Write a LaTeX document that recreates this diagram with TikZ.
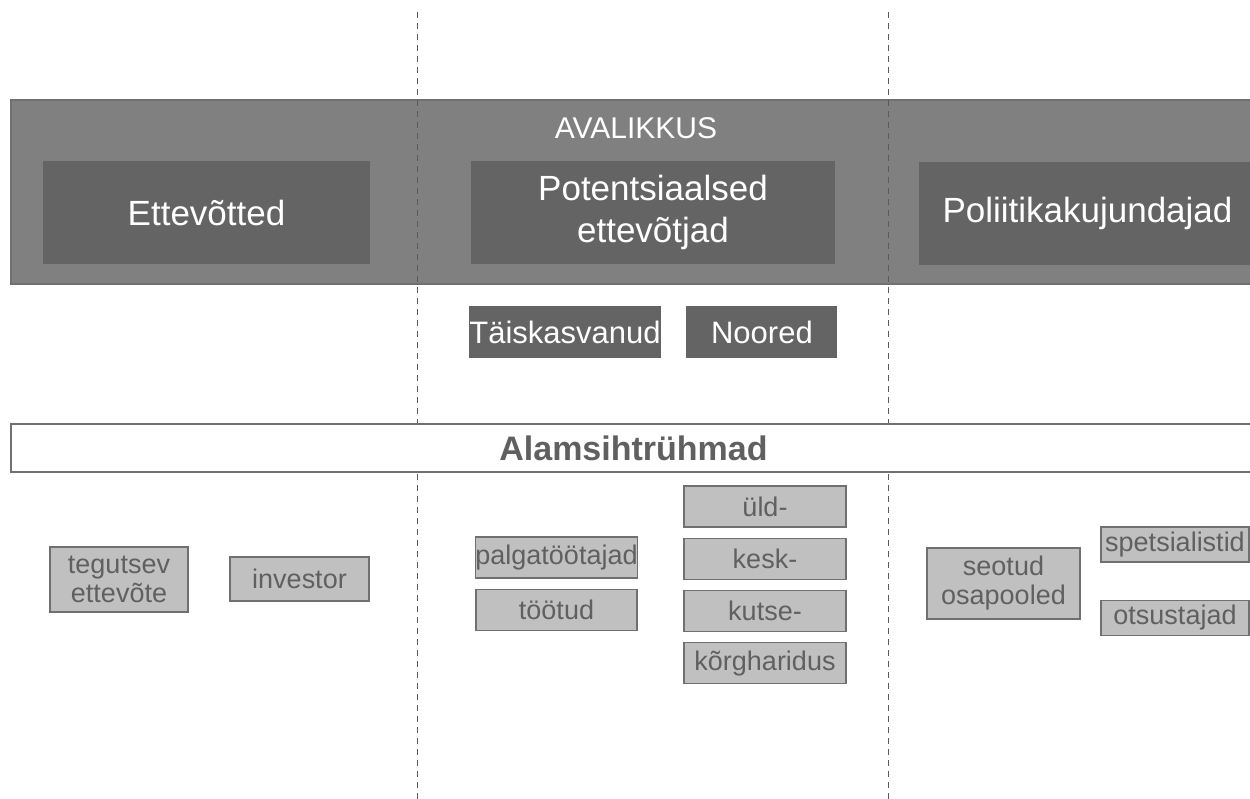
\documentclass[tikz,border=0pt]{standalone}
\usepackage{fontspec}
\setmainfont{Liberation Sans}
\usepackage{tikz}
\usetikzlibrary{positioning}
\definecolor{bandgray}{RGB}{128,128,128}
\definecolor{boxgray}{RGB}{100,100,100}
\definecolor{subgray}{RGB}{192,192,192}
\definecolor{linegray}{RGB}{112,112,112}
\definecolor{textgray}{RGB}{96,96,96}
\definecolor{dashgray}{RGB}{90,90,90}
\tikzstyle{band} = [rectangle, draw=linegray, fill=bandgray, line width=0.6pt, inner sep=0pt]
\tikzstyle{group} = [rectangle, fill=boxgray, text=white, inner sep=0pt, align=center, minimum height=51.5pt, font=\fontsize{17.5}{21}\selectfont]
\tikzstyle{subgroup} = [rectangle, fill=boxgray, text=white, inner sep=0pt, minimum height=26pt, font=\fontsize{15.5}{18}\selectfont]
\tikzstyle{target} = [rectangle, draw=linegray, fill=subgray, text=textgray, inner sep=0pt, line width=0.6pt, align=center, font=\fontsize{13.5}{14.5}\selectfont]
\tikzstyle{divider} = [draw=dashgray, line width=0.5pt, dash pattern=on 3pt off 2.5pt]

\begin{document}
\begin{tikzpicture}[x=0.5pt, y=-0.5pt]
\clip (0,0) rectangle (1250,799);

% public band
\node[band, minimum width=622.5pt, minimum height=92pt] (avalikkus) at (633.5,192) {};
\node[text=white, font=\fontsize{15}{18}\selectfont] (avalikkustitle) at (636,128) {AVALIKKUS};

\node[group, minimum width=163.5pt] (ettevotted) at (206.5,212.5) {Ettevõtted};
\node[group, minimum width=182pt] (potentsiaalsed) at (653,212.5) {Potentsiaalsed\\ettevõtjad};
\node[group, minimum width=168.5pt] (poliitika) at (1087.5,213.5) {Poliitikakujundajad};

\node[subgroup, minimum width=94pt] (taiskasvanud) at (565,332) {Täiskasvanud};
\node[subgroup, minimum width=75.5pt, right=12.5pt of taiskasvanud] (noored) {Noored};

% column dividers
\coordinate (top1) at (417.5,12);
\coordinate (bot1) at (417.5,799);
\coordinate (top2) at (888,12);
\coordinate (bot2) at (888,799);
\draw[divider] (top1) -- (bot1);
\draw[divider] (top2) -- (bot2);

% sub target groups
\node[rectangle, draw=linegray, fill=white, line width=0.6pt, minimum width=622.5pt, minimum height=24pt, text=textgray, font=\fontsize{17}{20}\selectfont\bfseries] (alam) at (633.5,448) {Alamsihtrühmad};

\node[target, minimum width=69pt, minimum height=32.5pt] (tegutsev) at (119,579.5) {tegutsev\\ettevõte};
\node[target, minimum width=69.5pt, minimum height=22pt] (investor) at (299.5,579) {investor};

\node[target, minimum width=80.5pt, minimum height=20.5pt] (palgatootajad) at (556.5,557.5) {palgatöötajad};
\node[target, minimum width=80.5pt, minimum height=20.5pt, below=5pt of palgatootajad] (tootud) {töötud};

\node[target, minimum width=81pt, minimum height=20.5pt] (uld) at (765,506.5) {üld-};
\node[target, minimum width=81pt, minimum height=20.5pt, below=5pt of uld] (kesk) {kesk-};
\node[target, minimum width=81pt, minimum height=20.5pt, below=5pt of kesk] (kutse) {kutse-};
\node[target, minimum width=81pt, minimum height=20.5pt, below=5pt of kutse] (korg) {kõrgharidus};

\node[target, minimum width=76.5pt, minimum height=35.5pt] (seotud) at (1003.5,583.5) {seotud\\osapooled};
\node[target, minimum width=74pt, minimum height=17.5pt] (spetsialistid) at (1175,544.5) {spetsialistid};
\node[target, minimum width=74pt, minimum height=17.5pt, below=18.5pt of spetsialistid] (otsustajad) {otsustajad};

\end{tikzpicture}
\end{document}
